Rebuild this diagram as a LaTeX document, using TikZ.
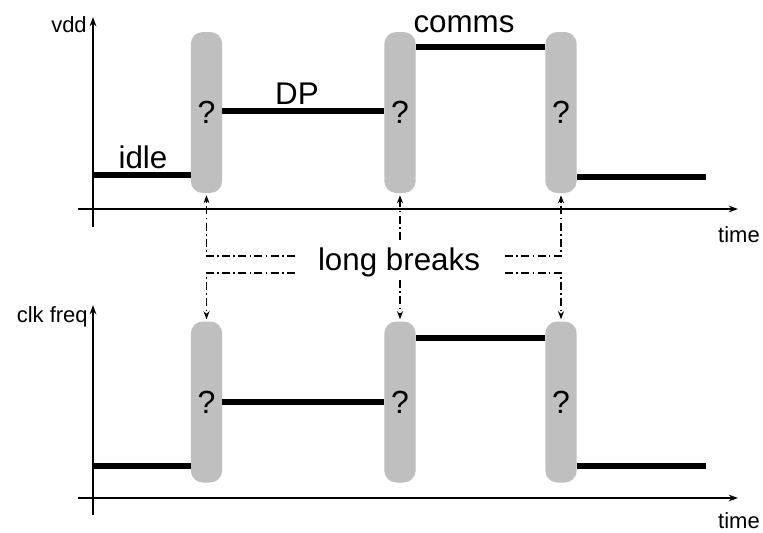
\documentclass[tikz,border=0pt]{standalone}
\usepackage{fontspec}
\setmainfont{Liberation Sans}
\usetikzlibrary{arrows.meta}
\begin{document}
\begin{tikzpicture}[x=0.75pt,y=-0.75pt,
  pill/.style={fill=black!25,rounded corners=9pt,minimum width=23.5pt,minimum height=120.75pt,inner sep=0pt,font=\fontsize{24}{28}\selectfont},
  sig/.style={line width=3.8pt},
  axis/.style={line width=1.35pt,-{Stealth[length=7pt,width=5pt]}},
  brk/.style={line width=1.3pt,dash pattern=on 6pt off 2.5pt on 1.2pt off 2.5pt},
  brkarr/.style={brk,-{Stealth[length=6pt,width=4.5pt]}},
  big/.style={font=\fontsize{23.5}{27}\selectfont,inner sep=0pt},
  small/.style={font=\fontsize{16.5}{19}\selectfont,inner sep=0pt}]
\useasboundingbox (0,0) rectangle (763,532);
% ---------- top panel ----------
\coordinate (ay1s) at (93,227); \coordinate (ay1e) at (93,17);
\coordinate (ax1s) at (78,209); \coordinate (ax1e) at (738,209);
\draw[axis] (ay1s) -- (ay1e);
\draw[axis] (ax1s) -- (ax1e);
\node[small,anchor=base east] (vdd) at (87,32) {vdd};
\node[small,anchor=base east] (time1) at (760,242) {time};
\node[pill] (t1) at (206.5,112.5) {?};
\node[pill] (t2) at (400,112.5) {?};
\node[pill] (t3) at (561,112.5) {?};
\coordinate (idle1) at (93,175);
\coordinate (dp1) at (t1.east |- 0,111);
\coordinate (cm1) at (t2.east |- 0,47);
\coordinate (end1) at (706,177);
\draw[sig] (idle1) -- (idle1 -| t1.west);
\draw[sig] (dp1) -- (dp1 -| t2.west);
\draw[sig] (cm1) -- (cm1 -| t3.west);
\draw[sig] (end1 -| t3.east) -- (end1);
\node[big,anchor=base] (idle) at (143,168) {idle};
\node[big,anchor=base] (dp) at (297,104) {DP};
\node[big,anchor=base] (comms) at (464,32) {comms};
% ---------- bottom panel ----------
\coordinate (ay2s) at (93,515); \coordinate (ay2e) at (93,305);
\coordinate (ax2s) at (78,498); \coordinate (ax2e) at (738,498);
\draw[axis] (ay2s) -- (ay2e);
\draw[axis] (ax2s) -- (ax2e);
\node[small,anchor=base east] (clk) at (88,322) {clk freq};
\node[small,anchor=base east] (time2) at (760,528) {time};
\node[pill] (b1) at (206.5,402) {?};
\node[pill] (b2) at (400,402) {?};
\node[pill] (b3) at (561,402) {?};
\coordinate (low2) at (93,466);
\coordinate (mid2) at (b1.east |- 0,402);
\coordinate (hi2) at (b2.east |- 0,338);
\coordinate (end2) at (706,466);
\draw[sig] (low2) -- (low2 -| b1.west);
\draw[sig] (mid2) -- (mid2 -| b2.west);
\draw[sig] (hi2) -- (hi2 -| b3.west);
\draw[sig] (end2 -| b3.east) -- (end2);
% ---------- long breaks ----------
\node[big] (lb) at (399,262) {long breaks};
\coordinate (l1) at (295,256); \coordinate (l2) at (295,273);
\coordinate (r1) at (505,256); \coordinate (r2) at (505,273);
\coordinate (m1) at (400,240); \coordinate (m2) at (400,280);
\draw[brkarr,shorten >=1.5pt] (l1) -| (t1.south);
\draw[brkarr,shorten >=1.5pt] (l2) -| (b1.north);
\draw[brkarr,shorten >=1.5pt] (r1) -| (t3.south);
\draw[brkarr,shorten >=1.5pt] (r2) -| (b3.north);
\draw[brkarr,shorten >=1.5pt] (m1) -- (t2.south);
\draw[brkarr,shorten >=1.5pt] (m2) -- (b2.north);
\end{tikzpicture}
\end{document}
